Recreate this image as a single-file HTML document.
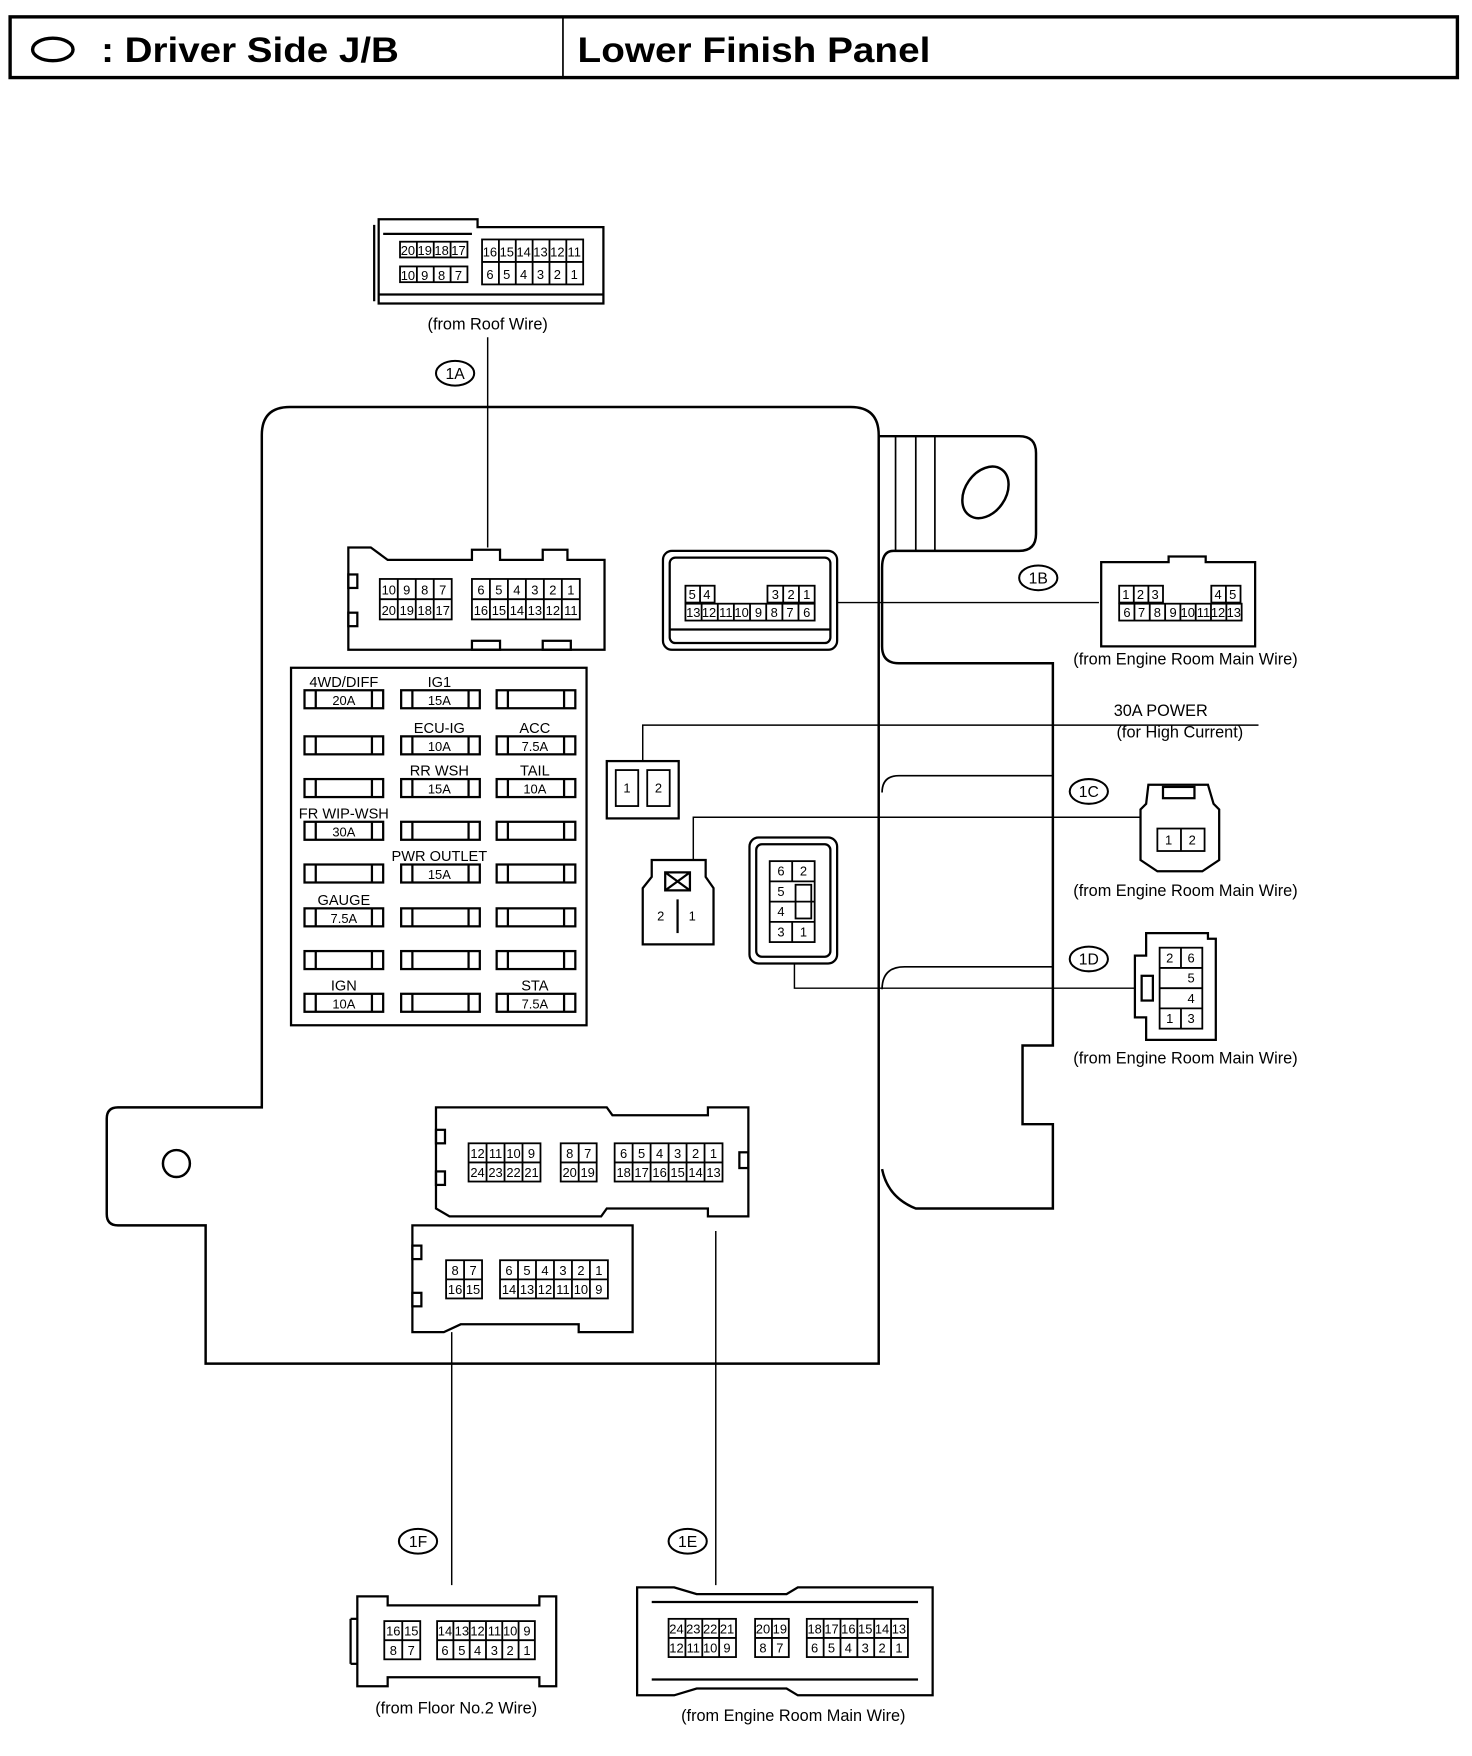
<!DOCTYPE html>
<html><head><meta charset="utf-8"><style>
html,body{margin:0;padding:0;background:#fff}
svg{display:block}
text{font-family:"Liberation Sans",sans-serif;fill:#000}
.c{font-size:11.5px;text-anchor:middle}
.l{font-size:13px;text-anchor:middle}
</style></head><body>
<svg width="1472" height="1756" viewBox="0 0 1310 1562" preserveAspectRatio="none" xmlns="http://www.w3.org/2000/svg">
<g fill="none" stroke="#000" stroke-width="2">
<rect x="9" y="15" width="1288" height="54" stroke-width="3"/>
<line x1="501" y1="15" x2="501" y2="69" stroke-width="1.5"/>
<ellipse cx="47" cy="44" rx="18" ry="10" stroke-width="3"/>
</g>
<text x="90" y="55" textLength="265" lengthAdjust="spacingAndGlyphs" style="font-size:31px;font-weight:bold">: Driver Side J/B</text>
<text x="514" y="55" textLength="314" lengthAdjust="spacingAndGlyphs" style="font-size:31px;font-weight:bold">Lower Finish Panel</text>

<g fill="none" stroke="#000" stroke-width="2.2">
<path d="M258,362 L757,362 Q782,362 782,387 L782,1213 L183,1213 L183,1090 L105,1090 Q95,1090 95,1080 L95,995 Q95,985 105,985 L233,985 L233,387 Q233,362 258,362 Z"/>
<circle cx="157" cy="1035" r="12"/>
<path d="M782,388 L907,388 Q922,388 922,403 L922,475 Q922,490 907,490 L795,490 Q785,490 785,505 L785,575 Q785,590 800,590 L937,590 L937,930 L910,930 L910,1000 L937,1000 L937,1075 L815,1075 Q790,1065 785,1040"/>
<path d="M785,705 Q785,690 800,690 L937,690" stroke-width="1.5"/>
<path d="M785,880 Q785,860 805,860 L937,860" stroke-width="1.5"/>
<line x1="797" y1="388" x2="797" y2="490" stroke-width="1.5"/>
<line x1="815" y1="388" x2="815" y2="490" stroke-width="1.5"/>
<line x1="832" y1="388" x2="832" y2="490" stroke-width="1.5"/>
<ellipse cx="877" cy="438" rx="18" ry="25" transform="rotate(35 877 438)"/>
<rect x="259" y="594" width="263" height="318" stroke-width="2"/>
</g>

<g fill="none" stroke="#000" stroke-width="2">
<g id="fr">
<rect x="271" y="614" width="70" height="16"/><line x1="281" y1="614" x2="281" y2="630"/><line x1="331" y1="614" x2="331" y2="630"/>
<rect x="357" y="614" width="70" height="16"/><line x1="367" y1="614" x2="367" y2="630"/><line x1="417" y1="614" x2="417" y2="630"/>
<rect x="442" y="614" width="70" height="16"/><line x1="452" y1="614" x2="452" y2="630"/><line x1="502" y1="614" x2="502" y2="630"/>
</g>
<use href="#fr" y="41"/><use href="#fr" y="79"/><use href="#fr" y="117"/><use href="#fr" y="155"/><use href="#fr" y="194"/><use href="#fr" y="232"/><use href="#fr" y="270"/>
</g>
<g class="l">
<text x="306" y="611">4WD/DIFF</text><text x="306" y="627" class="c">20A</text>
<text x="391" y="611">IG1</text><text x="391" y="627" class="c">15A</text>
<text x="391" y="652">ECU-IG</text><text x="391" y="668" class="c">10A</text>
<text x="476" y="652">ACC</text><text x="476" y="668" class="c">7.5A</text>
<text x="391" y="690">RR WSH</text><text x="391" y="706" class="c">15A</text>
<text x="476" y="690">TAIL</text><text x="476" y="706" class="c">10A</text>
<text x="306" y="728">FR WIP-WSH</text><text x="306" y="744" class="c">30A</text>
<text x="391" y="766">PWR OUTLET</text><text x="391" y="782" class="c">15A</text>
<text x="306" y="805">GAUGE</text><text x="306" y="821" class="c">7.5A</text>
<text x="306" y="881">IGN</text><text x="306" y="897" class="c">10A</text>
<text x="476" y="881">STA</text><text x="476" y="897" class="c">7.5A</text>
</g>

<g fill="none" stroke="#000" stroke-width="1.3">
<line x1="434" y1="300" x2="434" y2="487"/>
<line x1="745" y1="536" x2="978" y2="536"/>
<polyline points="572,677 572,645 1120,645"/>
<polyline points="617,765 617,727 1015,727"/>
<polyline points="707,857 707,879 1010,879"/>
<line x1="402" y1="1185" x2="402" y2="1410"/>
<line x1="637" y1="1095" x2="637" y2="1410"/>
</g>
<g fill="#fff" stroke="#000" stroke-width="1.8">
<ellipse cx="405" cy="332" rx="17" ry="11"/>
<ellipse cx="924" cy="514" rx="17" ry="11"/>
<ellipse cx="969" cy="704" rx="17" ry="11"/>
<ellipse cx="969" cy="853" rx="17" ry="11"/>
<ellipse cx="372" cy="1371" rx="17" ry="11"/>
<ellipse cx="612" cy="1371" rx="17" ry="11"/>
</g>
<g class="l" style="font-size:14px">
<text x="405" y="337">1A</text><text x="924" y="519">1B</text><text x="969" y="709">1C</text>
<text x="969" y="858">1D</text><text x="372" y="1376">1F</text><text x="612" y="1376">1E</text>
</g>
<g class="l" style="font-size:14.5px">
<text x="434" y="293">(from Roof Wire)</text>
<text x="1055" y="591">(from Engine Room Main Wire)</text>
<text x="1033" y="637">30A POWER</text>
<text x="1050" y="656">(for High Current)</text>
<text x="1055" y="797">(from Engine Room Main Wire)</text>
<text x="1055" y="946">(from Engine Room Main Wire)</text>
<text x="406" y="1524">(from Floor No.2 Wire)</text>
<text x="706" y="1531">(from Engine Room Main Wire)</text>
</g>

<g fill="none" stroke="#000" stroke-width="2">
<path d="M337,195 L425,195 L425,202 L537,202 L537,270 L337,270 Z"/>
<line x1="337" y1="262" x2="537" y2="262"/>
<line x1="341" y1="208" x2="420" y2="208"/>
<path d="M333,200 L333,268"/>
<path d="M310,487 L330,487 L345,498 L420,498 L420,489 L445,489 L445,498 L483,498 L483,489 L505,489 L505,498 L538,498 L538,578 L310,578 Z"/>
<rect x="310" y="511" width="8" height="12"/><rect x="310" y="545" width="8" height="12"/>
<rect x="420" y="570" width="25" height="8"/><rect x="483" y="570" width="25" height="8"/>
<rect x="590" y="490" width="155" height="88" rx="8"/>
<rect x="596" y="496" width="143" height="76" rx="5"/>
<line x1="596" y1="560" x2="739" y2="560"/>
<path d="M980,500 L1040,500 L1040,495 L1073,495 L1073,500 L1117,500 L1117,575 L980,575 Z"/>
<rect x="540" y="677" width="64" height="51"/>
<path d="M580,765 L628,765 L628,780 L635,790 L635,840 L572,840 L572,790 L580,780 Z"/>
<rect x="592" y="776" width="22" height="16"/>
<line x1="592" y1="776" x2="614" y2="792"/><line x1="614" y1="776" x2="592" y2="792"/>
<line x1="603" y1="800" x2="603" y2="830"/>
<rect x="667" y="745" width="78" height="112" rx="8"/>
<rect x="673" y="751" width="66" height="100" rx="5"/>
<path d="M1022,698 L1075,698 L1080,715 L1085,720 L1085,765 L1070,775 L1030,775 L1015,765 L1015,720 L1020,715 Z"/>
<rect x="1035" y="700" width="28" height="10"/>
<path d="M1020,830 L1075,830 L1075,835 L1082,835 L1082,925 L1020,925 L1020,905 L1010,905 L1010,850 L1020,850 Z"/>
<rect x="1016" y="868" width="10" height="22"/>
<path d="M388,985 L540,985 L545,992 L630,992 L630,985 L666,985 L666,1082 L630,1082 L630,1075 L540,1075 L535,1082 L400,1082 L388,1075 Z"/>
<rect x="388" y="1005" width="8" height="12"/><rect x="388" y="1042" width="8" height="12"/>
<rect x="658" y="1025" width="8" height="14"/>
<path d="M367,1090 L563,1090 L563,1185 L515,1185 L515,1178 L410,1178 L395,1185 L367,1185 Z"/>
<rect x="367" y="1108" width="8" height="12"/><rect x="367" y="1150" width="8" height="12"/>
<path d="M318,1420 L345,1420 L345,1428 L480,1428 L480,1420 L495,1420 L495,1500 L480,1500 L480,1492 L345,1492 L345,1500 L318,1500 Z"/>
<line x1="312" y1="1440" x2="318" y2="1440"/><line x1="312" y1="1440" x2="312" y2="1480"/><line x1="312" y1="1480" x2="318" y2="1480"/>
<path d="M567,1412 L600,1412 L620,1418 L700,1418 L710,1412 L830,1412 L830,1508 L710,1508 L700,1502 L620,1502 L600,1508 L567,1508 Z"/>
<line x1="580" y1="1425" x2="817" y2="1425"/><line x1="580" y1="1494" x2="817" y2="1494"/>
</g>

<g fill="none" stroke="#000" stroke-width="1.6">
<rect x="356" y="215" width="60" height="14"/><line x1="371" y1="215" x2="371" y2="229"/><line x1="386" y1="215" x2="386" y2="229"/><line x1="401" y1="215" x2="401" y2="229"/>
<rect x="356" y="237" width="60" height="14"/><line x1="371" y1="237" x2="371" y2="251"/><line x1="386" y1="237" x2="386" y2="251"/><line x1="401" y1="237" x2="401" y2="251"/>
<rect x="429" y="213" width="90" height="40"/><line x1="429" y1="233" x2="519" y2="233"/>
<path d="M444,213V253M459,213V253M474,213V253M489,213V253M504,213V253"/>
<rect x="338" y="515" width="64" height="36"/><path d="M338,533H402M354,515V551M370,515V551M386,515V551"/>
<rect x="420" y="515" width="96" height="36"/><path d="M420,533H516M436,515V551M452,515V551M468,515V551M484,515V551M500,515V551"/>
<rect x="610" y="521" width="26" height="15"/><line x1="623" y1="521" x2="623" y2="536"/>
<rect x="683" y="521" width="42" height="15"/><path d="M697,521V536M711,521V536"/>
<rect x="610" y="537" width="115" height="15"/><path d="M624.4,537V552M638.8,537V552M653.1,537V552M667.5,537V552M681.9,537V552M696.3,537V552M710.6,537V552"/>
<rect x="996" y="521" width="39" height="15"/><path d="M1009,521V536M1022,521V536"/>
<rect x="1078" y="521" width="26" height="15"/><line x1="1091" y1="521" x2="1091" y2="536"/>
<rect x="996" y="537" width="109" height="15"/><path d="M1009.6,537V552M1023.2,537V552M1036.9,537V552M1050.5,537V552M1064.1,537V552M1077.7,537V552M1091.4,537V552"/>
<rect x="548" y="685" width="20" height="32"/><rect x="576" y="685" width="20" height="32"/>
<rect x="685" y="766" width="40" height="72"/><path d="M685,784H725M685,802H725M685,820H725M705,766V784M705,820V838"/>
<rect x="708" y="787" width="14" height="30"/>
<rect x="1030" y="737" width="42" height="20"/><line x1="1051" y1="737" x2="1051" y2="757"/>
<rect x="1032" y="843" width="38" height="72"/><path d="M1032,861H1070M1032,879H1070M1032,897H1070M1051,843V861M1051,897V915"/>
<rect x="417" y="1017" width="64" height="34"/><path d="M417,1034H481M433,1017V1051M449,1017V1051M465,1017V1051"/>
<rect x="499" y="1017" width="32" height="34"/><path d="M499,1034H531M515,1017V1051"/>
<rect x="547" y="1017" width="96" height="34"/><path d="M547,1034H643M563,1017V1051M579,1017V1051M595,1017V1051M611,1017V1051M627,1017V1051"/>
<rect x="397" y="1121" width="32" height="34"/><path d="M397,1138H429M413,1121V1155"/>
<rect x="445" y="1121" width="96" height="34"/><path d="M445,1138H541M461,1121V1155M477,1121V1155M493,1121V1155M509,1121V1155M525,1121V1155"/>
<rect x="342" y="1442" width="32" height="34"/><path d="M342,1459H374M358,1442V1476"/>
<rect x="389" y="1442" width="87" height="34"/><path d="M389,1459H476M403.5,1442V1476M418,1442V1476M432.5,1442V1476M447,1442V1476M461.5,1442V1476"/>
<rect x="595" y="1440" width="60" height="34"/><path d="M595,1457H655M610,1440V1474M625,1440V1474M640,1440V1474"/>
<rect x="672" y="1440" width="30" height="34"/><path d="M672,1457H702M687,1440V1474"/>
<rect x="718" y="1440" width="90" height="34"/><path d="M718,1457H808M733,1440V1474M748,1440V1474M763,1440V1474M778,1440V1474M793,1440V1474"/>
</g>

<g class="c">
<text x="363" y="227">20</text><text x="378" y="227">19</text><text x="393" y="227">18</text><text x="408" y="227">17</text>
<text x="363" y="249">10</text><text x="378" y="249">9</text><text x="393" y="249">8</text><text x="408" y="249">7</text>
<text x="436" y="228">16</text><text x="451" y="228">15</text><text x="466" y="228">14</text><text x="481" y="228">13</text><text x="496" y="228">12</text><text x="511" y="228">11</text>
<text x="436" y="248">6</text><text x="451" y="248">5</text><text x="466" y="248">4</text><text x="481" y="248">3</text><text x="496" y="248">2</text><text x="511" y="248">1</text>
<text x="346" y="529">10</text><text x="362" y="529">9</text><text x="378" y="529">8</text><text x="394" y="529">7</text>
<text x="346" y="547">20</text><text x="362" y="547">19</text><text x="378" y="547">18</text><text x="394" y="547">17</text>
<text x="428" y="529">6</text><text x="444" y="529">5</text><text x="460" y="529">4</text><text x="476" y="529">3</text><text x="492" y="529">2</text><text x="508" y="529">1</text>
<text x="428" y="547">16</text><text x="444" y="547">15</text><text x="460" y="547">14</text><text x="476" y="547">13</text><text x="492" y="547">12</text><text x="508" y="547">11</text>
<text x="616" y="533">5</text><text x="629" y="533">4</text>
<text x="690" y="533">3</text><text x="704" y="533">2</text><text x="718" y="533">1</text>
<text x="617" y="549">13</text><text x="631" y="549">12</text><text x="646" y="549">11</text><text x="660" y="549">10</text><text x="675" y="549">9</text><text x="689" y="549">8</text><text x="703" y="549">7</text><text x="718" y="549">6</text>
<text x="1002" y="533">1</text><text x="1015" y="533">2</text><text x="1028" y="533">3</text>
<text x="1084" y="533">4</text><text x="1097" y="533">5</text>
<text x="1003" y="549">6</text><text x="1016" y="549">7</text><text x="1030" y="549">8</text><text x="1044" y="549">9</text><text x="1057" y="549">10</text><text x="1071" y="549">11</text><text x="1084" y="549">12</text><text x="1098" y="549">13</text>
<text x="558" y="705">1</text><text x="586" y="705">2</text>
<text x="588" y="819">2</text><text x="616" y="819">1</text>
<text x="695" y="779">6</text><text x="715" y="779">2</text>
<text x="695" y="797">5</text><text x="695" y="815">4</text>
<text x="695" y="833">3</text><text x="715" y="833">1</text>
<text x="1040" y="751">1</text><text x="1061" y="751">2</text>
<text x="1041" y="856">2</text><text x="1060" y="856">6</text>
<text x="1060" y="874">5</text><text x="1060" y="892">4</text>
<text x="1041" y="910">1</text><text x="1060" y="910">3</text>
<text x="425" y="1030">12</text><text x="441" y="1030">11</text><text x="457" y="1030">10</text><text x="473" y="1030">9</text>
<text x="425" y="1047">24</text><text x="441" y="1047">23</text><text x="457" y="1047">22</text><text x="473" y="1047">21</text>
<text x="507" y="1030">8</text><text x="523" y="1030">7</text>
<text x="507" y="1047">20</text><text x="523" y="1047">19</text>
<text x="555" y="1030">6</text><text x="571" y="1030">5</text><text x="587" y="1030">4</text><text x="603" y="1030">3</text><text x="619" y="1030">2</text><text x="635" y="1030">1</text>
<text x="555" y="1047">18</text><text x="571" y="1047">17</text><text x="587" y="1047">16</text><text x="603" y="1047">15</text><text x="619" y="1047">14</text><text x="635" y="1047">13</text>
<text x="405" y="1134">8</text><text x="421" y="1134">7</text>
<text x="405" y="1151">16</text><text x="421" y="1151">15</text>
<text x="453" y="1134">6</text><text x="469" y="1134">5</text><text x="485" y="1134">4</text><text x="501" y="1134">3</text><text x="517" y="1134">2</text><text x="533" y="1134">1</text>
<text x="453" y="1151">14</text><text x="469" y="1151">13</text><text x="485" y="1151">12</text><text x="501" y="1151">11</text><text x="517" y="1151">10</text><text x="533" y="1151">9</text>
<text x="350" y="1455">16</text><text x="366" y="1455">15</text>
<text x="350" y="1472">8</text><text x="366" y="1472">7</text>
<text x="396" y="1455">14</text><text x="411" y="1455">13</text><text x="425" y="1455">12</text><text x="440" y="1455">11</text><text x="454" y="1455">10</text><text x="469" y="1455">9</text>
<text x="396" y="1472">6</text><text x="411" y="1472">5</text><text x="425" y="1472">4</text><text x="440" y="1472">3</text><text x="454" y="1472">2</text><text x="469" y="1472">1</text>
<text x="602" y="1453">24</text><text x="617" y="1453">23</text><text x="632" y="1453">22</text><text x="647" y="1453">21</text>
<text x="602" y="1470">12</text><text x="617" y="1470">11</text><text x="632" y="1470">10</text><text x="647" y="1470">9</text>
<text x="679" y="1453">20</text><text x="694" y="1453">19</text>
<text x="679" y="1470">8</text><text x="694" y="1470">7</text>
<text x="725" y="1453">18</text><text x="740" y="1453">17</text><text x="755" y="1453">16</text><text x="770" y="1453">15</text><text x="785" y="1453">14</text><text x="800" y="1453">13</text>
<text x="725" y="1470">6</text><text x="740" y="1470">5</text><text x="755" y="1470">4</text><text x="770" y="1470">3</text><text x="785" y="1470">2</text><text x="800" y="1470">1</text>
</g>
</svg>
</body></html>
